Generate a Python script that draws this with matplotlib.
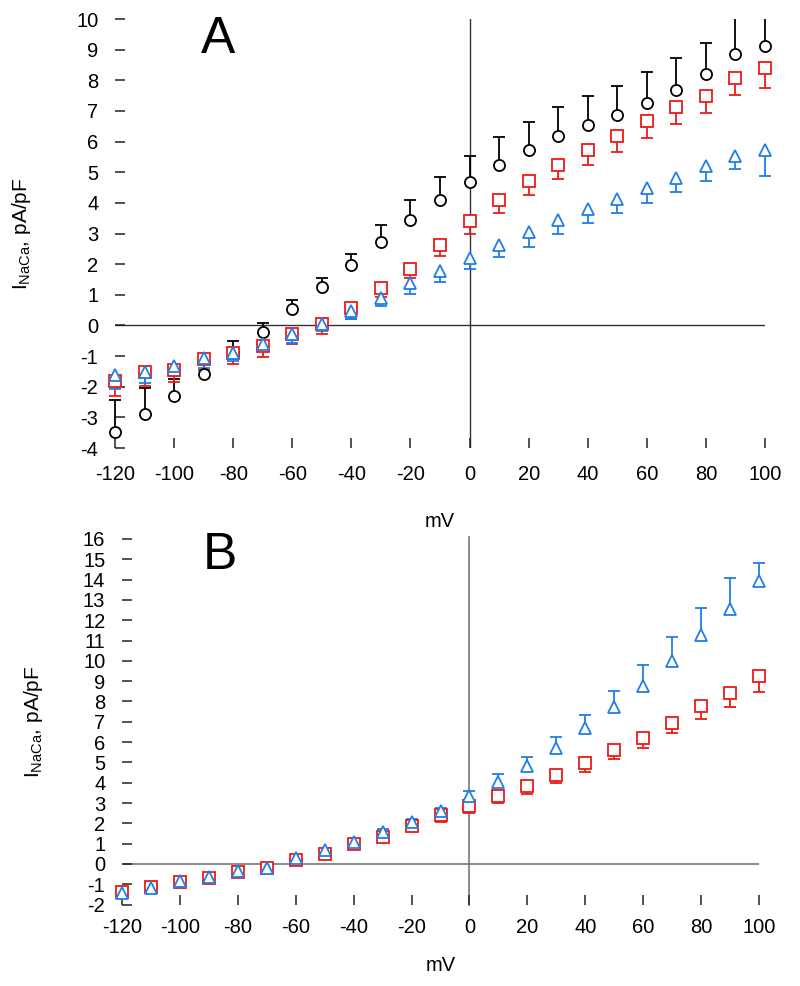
import numpy as np
import matplotlib
matplotlib.use('Agg')
import matplotlib.pyplot as plt
from matplotlib.transforms import Bbox, TransformedBbox
plt.rc('font', family='Liberation Sans')
plt.rc('axes', unicode_minus=False)

# membrane potential, mV
mv = [-120, -110, -100, -90, -80, -70, -60, -50, -40, -30, -20, -10,
      0, 10, 20, 30, 40, 50, 60, 70, 80, 90, 100]

# panel A
a_black = [-3.47, -2.90, -2.31, -1.60, -0.91, -0.22, 0.54, 1.25, 1.96, 2.72, 3.43, 4.08,
           4.68, 5.25, 5.71, 6.18, 6.53, 6.86, 7.27, 7.70, 8.19, 8.87, 9.12]
a_black_top = [-2.44, -2.03, -1.75, -1.05, -0.51, 0.07, 0.82, 1.56, 2.34, 3.27, 4.08, 4.84,
               5.53, 6.16, 6.64, 7.13, 7.48, 7.81, 8.28, 8.74, 9.23, 10.5, 10.4]
a_red = [-1.82, -1.52, -1.44, -1.11, -0.89, -0.67, -0.29, 0.05, 0.57, 1.22, 1.83, 2.62,
         3.40, 4.09, 4.71, 5.25, 5.72, 6.18, 6.67, 7.13, 7.48, 8.06, 8.41]
a_red_bot = [-2.31, -1.98, -1.85, -1.44, -1.27, -1.02, -0.62, -0.27, 0.20, 0.92, 1.55, 2.28,
             2.99, 3.68, 4.25, 4.77, 5.23, 5.66, 6.12, 6.56, 6.94, 7.51, 7.76]
a_blue = [-1.63, -1.52, -1.31, -1.05, -0.89, -0.59, -0.27, 0.05, 0.47, 0.90, 1.39, 1.77,
          2.21, 2.64, 3.05, 3.44, 3.79, 4.13, 4.49, 4.82, 5.20, 5.53, 5.72]
a_blue_bot = [-2.07, -1.87, -1.65, -1.38, -1.16, -0.84, -0.57, -0.19, 0.22, 0.63, 1.03, 1.43,
              1.83, 2.23, 2.57, 2.99, 3.33, 3.68, 4.00, 4.35, 4.71, 5.09, 4.87]

# panel B
b_red = [-1.36, -1.15, -0.87, -0.71, -0.38, -0.21, 0.20, 0.48, 0.97, 1.35, 1.89, 2.41,
         2.86, 3.35, 3.84, 4.38, 4.99, 5.62, 6.22, 6.93, 7.78, 8.44, 9.23]
b_red_bot = [-1.55, -1.30, -1.00, -0.85, -0.50, -0.30, 0.08, 0.38, 0.82, 1.20, 1.70, 2.05,
             2.49, 2.99, 3.45, 3.97, 4.55, 5.16, 5.70, 6.44, 7.14, 7.75, 8.49]
b_blue = [-1.45, -1.20, -0.82, -0.62, -0.34, -0.18, 0.28, 0.69, 1.10, 1.59, 2.08, 2.61,
          3.35, 4.05, 4.83, 5.70, 6.68, 7.72, 8.77, 9.97, 11.25, 12.55, 13.94]
b_blue_top = [-1.30, -1.05, -0.70, -0.50, -0.25, -0.08, 0.38, 0.80, 1.20, 1.72, 2.22, 2.78,
              3.61, 4.42, 5.29, 6.24, 7.31, 8.54, 9.80, 11.15, 12.60, 14.07, 14.81]

RED = '#f01818'
BLUE = '#1f7ee8'


def series(ax, y, end, color, marker, ms):
    # one-sided error bars: a line from the point to its end, cap only at the end
    box = TransformedBbox(Bbox([[-0.1, 0], [1.1, 1]]), ax.transAxes)
    bars = ax.vlines(mv, y, end, colors=color, lw=1.3, zorder=2)
    caps, = ax.plot(mv, end, linestyle='none', marker='_', ms=8.5, mew=1.3, color=color, zorder=2)
    for art in (bars, caps):
        art.set_clip_path(None)
        art.set_clip_box(box)
    ax.plot(mv, y, linestyle='none', marker=marker, ms=ms, mfc='white', mec=color,
            mew=1.3, clip_on=False, zorder=3)


def style(ax, ymin, ymax, pad_x):
    ax.set_xlim(-120, 100)
    ax.set_ylim(ymin, ymax)
    for s in ax.spines.values():
        s.set_visible(False)
    ax.set_xticks(range(-120, 101, 20))
    ax.set_yticks(range(ymin, ymax + 1))
    ax.tick_params(axis='both', direction='in', length=7, width=1.1, color='#222222',
                   labelsize=14.5)
    ax.tick_params(axis='y', pad=12)
    ax.tick_params(axis='x', pad=pad_x)
    ax.set_ylabel(r'$\mathregular{I_{NaCa}}$, pA/pF', fontsize=15)
    ax.set_xlabel('mV', fontsize=14.5)


fig = plt.figure(figsize=(8, 9.86), dpi=100)

# ---- A ----
ax1 = fig.add_axes([0.14375, 0.5456, 0.8125, 0.4351])
style(ax1, -4, 10, 12)
ax1.plot([-120, 100], [0, 0], color='#333333', lw=1.0, zorder=1)
ax1.plot([0, 0], [-4, 10], color='#333333', lw=1.0, zorder=1)
series(ax1, a_black, a_black_top, 'black', 'o', 8)
series(ax1, a_red, a_red_bot, RED, 's', 8.5)
series(ax1, a_blue, a_blue_bot, BLUE, '^', 9)
ax1.yaxis.set_label_coords(-0.126, 0.5)
ax1.xaxis.set_label_coords(0.5, -0.15)
ax1.text(0.158, 0.953, 'A', transform=ax1.transAxes, fontsize=37, ha='center', va='center')

# ---- B ----
ax2 = fig.add_axes([0.1525, 0.08256, 0.79625, 0.3708])
style(ax2, -2, 16, 9.5)
ax2.plot([-120, 100], [0, 0], color='#777777', lw=1.2, zorder=1)
ax2.plot([0, 0], [-2, 16.1], color='#777777', lw=1.2, zorder=1, clip_on=False)
series(ax2, b_red, b_red_bot, RED, 's', 8.5)
series(ax2, b_blue, b_blue_top, BLUE, '^', 9)
ax2.yaxis.set_label_coords(-0.121, 0.5)
ax2.xaxis.set_label_coords(0.5, -0.14)
ax2.text(0.154, 0.956, 'B', transform=ax2.transAxes, fontsize=37, ha='center', va='center')

plt.savefig('out.png', dpi=100)
plt.close()
